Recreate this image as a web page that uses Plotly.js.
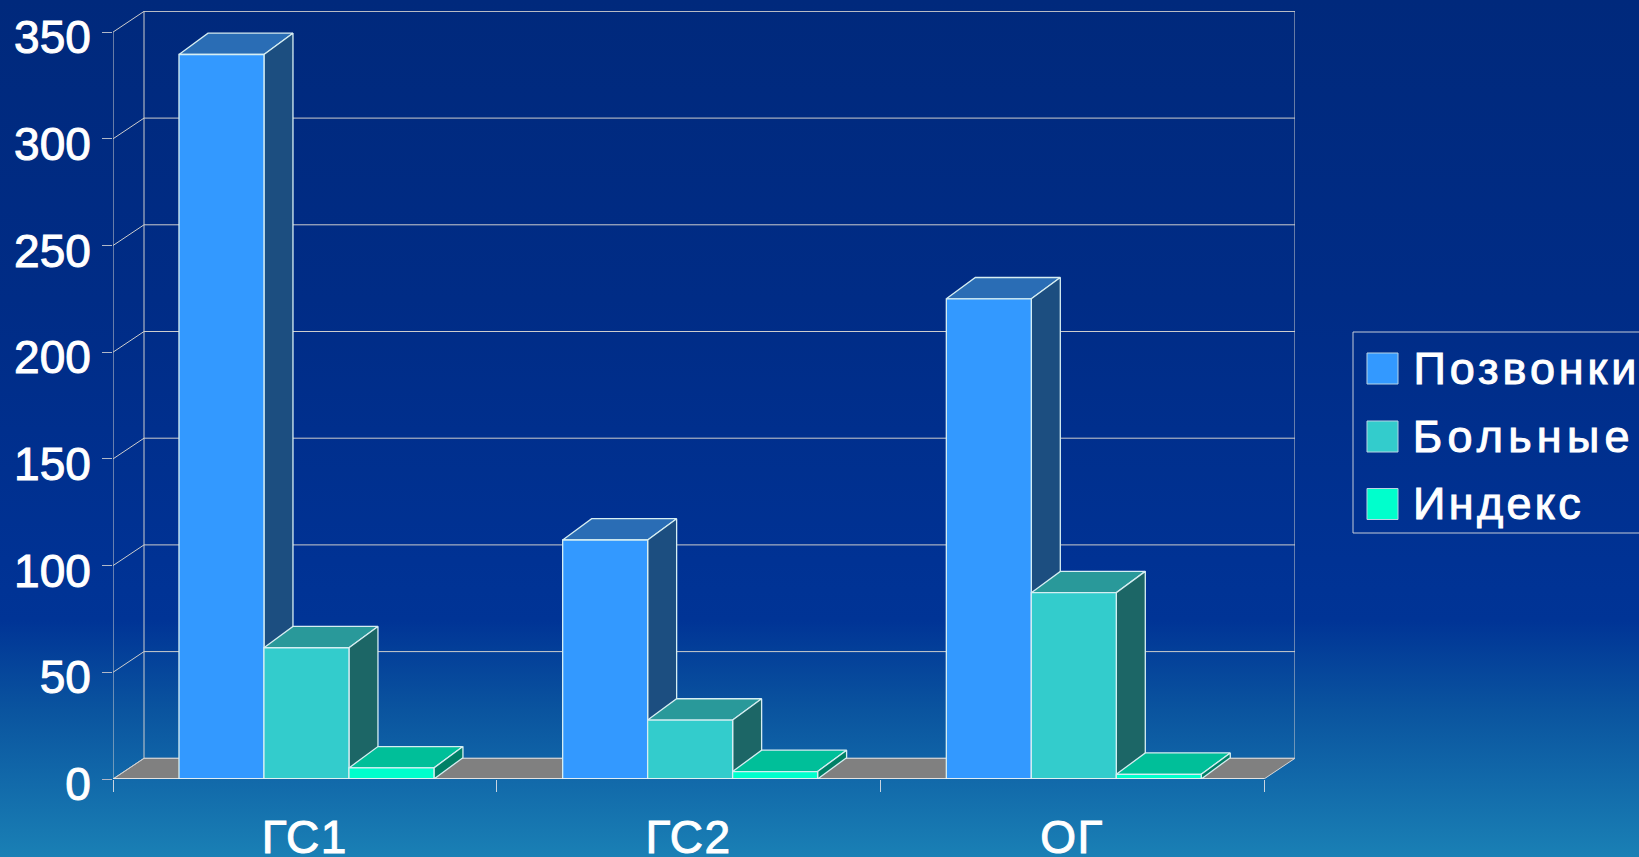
<!DOCTYPE html>
<html><head><meta charset="utf-8">
<script src="https://cdn.plot.ly/plotly-3.0.1.min.js"></script>
<style>
html,body{margin:0;padding:0;width:1639px;height:857px;overflow:hidden;
background:linear-gradient(180deg,#00297c 0px,#002c86 300px,#003294 560px,#003496 620px,#0a549f 710px,#1a80b5 857px);}
.xtick text,.ytick text,.annotation text{stroke:#ffffff;stroke-width:1px;}
.xtick text{letter-spacing:1.5px;}
.annotation[data-index="0"] text{letter-spacing:3.9px;}
.annotation[data-index="1"] text{letter-spacing:5.2px;}
.annotation[data-index="2"] text{letter-spacing:3.3px;}
</style></head><body><div id="chart" style="width:1639px;height:857px"></div>
<script>
const categories = ['ГС1','ГС2','ОГ'];
const seriesNames = ['Позвонки','Больные','Индекс'];
const vertebrae = [339.5, 112, 225];
const patients = [61.5, 27.6, 87.3];
const indexValues = [5.2, 3.5, 2.2];
const yTicks = [0,50,100,150,200,250,300,350];
const frontColors = ['#3399ff','#33cccc','#00ffcc'];
const topColors = ['#2a6db5','#29999a','#00bf99'];
const sideColors = ['#1c4e80','#1c6666','#008066'];

const allSeries = [vertebrae, patients, indexValues];
const wallDx = 31/383.67, wallDy = 9.7, barDx = 29/383.67, barDy = 10;
const barW = 0.2215, groupStart = 0.172;
const edge = '#d6eef2', grid = 'rgb(205,205,205)';
const nCat = categories.length;
const legendShift = [15.6, 18.2, 9.9];

function poly(xs, ys, fill, lc, lw, name){
  return {type:'scatter', mode:'lines', x:[...xs, xs[0]], y:[...ys, ys[0]], fill:'toself', fillcolor:fill,
    line:{color:lc, width:lw}, cliponaxis:false, hoverinfo:'skip', showlegend:false, name:name||''};
}
function line(xs, ys, c, w){
  return {type:'scatter', mode:'lines', x:xs, y:ys, line:{color:c, width:w||1}, cliponaxis:false, hoverinfo:'skip', showlegend:false};
}
const traces = [];
// floor
traces.push(poly([0,wallDx,nCat+wallDx,nCat],[0,wallDy,wallDy,0],'#808080','#d8d8d8',1));
// walls and gridlines
yTicks.forEach(v=>{
  traces.push(line([0,wallDx,nCat+wallDx],[v,v+wallDy,v+wallDy],grid,1));
});
const topT = yTicks[yTicks.length-1];
traces.push(line([0,0],[0,topT],grid,1));
traces.push(line([wallDx,wallDx],[wallDy,topT+wallDy],grid,1));
traces.push(line([nCat+wallDx,nCat+wallDx],[wallDy,topT+wallDy],grid,1));
// bars
categories.forEach((c,i)=>{
  allSeries.forEach((vals,s)=>{
    const x0 = i+groupStart+s*barW, x1 = x0+barW, v = vals[i];
    traces.push(poly([x0,x0+barDx,x1+barDx,x1],[v,v+barDy,v+barDy,v],topColors[s],edge,1.3));
    traces.push(poly([x1,x1+barDx,x1+barDx,x1],[0,barDy,v+barDy,v],sideColors[s],edge,1.3));
    traces.push(poly([x0,x1,x1,x0],[0,0,v,v],frontColors[s],edge,1.3,seriesNames[s]));
  });
});
traces.push(line([0,nCat],[0,0],'#f4f4f4',1.3));

const L=113,T=11,PW=1182,PH=768;
const px=p=>(p-L)/PW, py=p=>(T+PH-p)/PH;
const shapes=[{type:'rect',xref:'paper',yref:'paper',x0:px(1353),x1:px(1660),y0:py(332),y1:py(533),
  line:{color:'#c4ccd8',width:1},fillcolor:'rgba(0,0,0,0)'}];
const annotations=[];
const swatchTop=[353,421,488.5], baseY=[368.5,436.5,504];
seriesNames.forEach((n,s)=>{
  shapes.push({type:'rect',xref:'paper',yref:'paper',x0:px(1367),x1:px(1398),y0:py(swatchTop[s]),y1:py(swatchTop[s]+31),
    line:{color:'#b8d4e4',width:1},fillcolor:frontColors[s]});
  annotations.push({xref:'paper',yref:'paper',x:px(1411+legendShift[s]),y:py(baseY[s]),xanchor:'left',yanchor:'middle',showarrow:false,
    text:n,font:{family:'Liberation Sans, Arial, sans-serif',size:45,color:'#ffffff'}});
});
const font={family:'Liberation Sans, Arial, sans-serif',size:46,color:'#ffffff'};
const layout={
  width:1639,height:857,autosize:false,showlegend:false,
  paper_bgcolor:'rgba(0,0,0,0)',plot_bgcolor:'rgba(0,0,0,0)',
  margin:{l:L,r:1639-L-PW,t:T,b:857-T-PH,pad:0},
  xaxis:{range:[0,1182/383.67],tickmode:'array',tickvals:categories.map((c,i)=>i+0.5),ticktext:categories,
    ticks:'',showgrid:false,zeroline:false,showline:false,tickfont:font,ticklabelstandoff:27,
    minor:{tickmode:'array',tickvals:[0,1,2,3],ticks:'outside',ticklen:12,tickcolor:'#c8d4e0',tickwidth:1,showgrid:false}},
  yaxis:{range:[0,768/2.134],tickmode:'array',tickvals:yTicks,ticks:'outside',ticklen:10,tickcolor:'#b0b8c8',tickwidth:1,
    showgrid:false,zeroline:false,showline:false,tickfont:font,ticklabelstandoff:2,ticklabelshift:5},
  shapes,annotations
};
Plotly.newPlot('chart',traces,layout,{displayModeBar:false,staticPlot:true});
</script></body></html>
